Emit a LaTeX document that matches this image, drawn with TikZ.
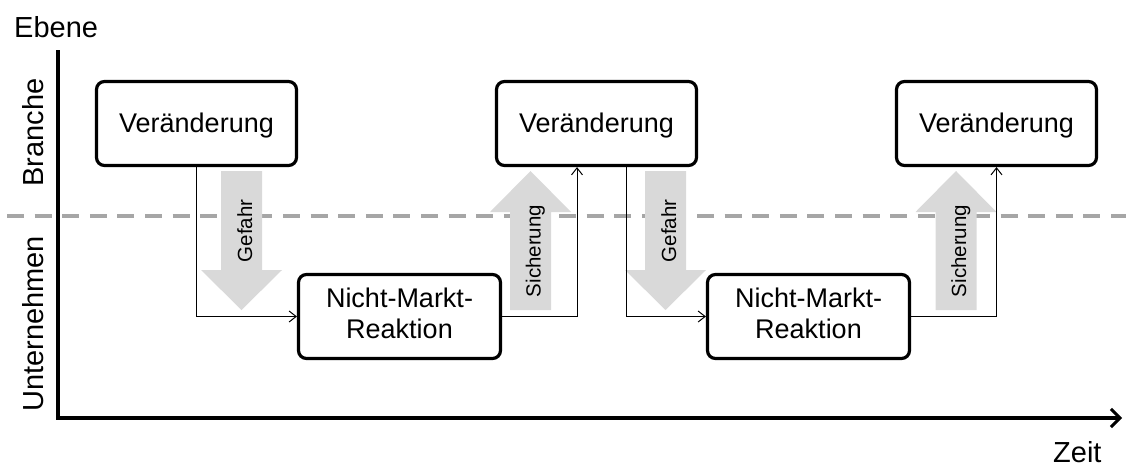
\documentclass[tikz,border=0pt]{standalone}
\usepackage{fontspec}
\setmainfont{Liberation Sans}
\usetikzlibrary{arrows.meta}
\definecolor{bandgray}{HTML}{D9D9D9}
\definecolor{dashgray}{HTML}{A6A6A6}
\begin{document}
\begin{tikzpicture}[x=1pt,y=-1pt,
  box/.style={draw, line width=3.2pt, rounded corners=8pt, minimum height=84pt,
    inner sep=0pt, align=center, font=\fontsize{27}{31}\selectfont},
  change/.style={box, minimum width=200pt, text depth=0pt, text height=18pt},
  reaction/.style={box, minimum width=202pt},
  conn/.style={line width=1pt, -{Straight Barb[length=7pt,width=11pt,line width=1pt]}},
  axis/.style={line width=3.2pt},
  axislabel/.style={font=\fontsize{29}{33}\selectfont, inner sep=0pt},
  bandtext/.style={font=\fontsize{20.5}{24}\selectfont, inner sep=0pt, rotate=90, anchor=base},
  band/.style={fill=bandgray, draw=none}
]
\useasboundingbox (0,0) rectangle (1126,466);

% level separator
\draw[dashgray, line width=4pt, dash pattern=on 17pt off 10.6pt] (7,215.5) -- (1126,215.5);

% axes
\draw[axis] (58,50) -- (58,418) -- (1116,418);
\draw[axis, -{Straight Barb[length=9pt,width=18pt,line width=3pt]}] (1100,418) -- (1122,418);
\node[axislabel, anchor=base west] (ebene) at (14,37) {Ebene};
\node[axislabel, anchor=base west] (zeit) at (1053,462) {Zeit};
\node[axislabel, anchor=base, rotate=90] (branche) at (43,132.5) {Branche};
\node[axislabel, anchor=base, rotate=90] (unternehmen) at (43,324) {Unternehmen};

% broad arrows: threat (down) and safeguarding (up)
\foreach \cx/\nm in {241.5/g1, 665.5/g2} {
  \fill[band] (\cx-20.5,171) -- (\cx+20.5,171) -- (\cx+20.5,270) -- (\cx+40.5,270)
    -- (\cx,310) -- (\cx-40.5,270) -- (\cx-20.5,270) -- cycle;
  \node[bandtext] (\nm) at (\cx+10.5,231) {Gefahr};
}
\foreach \cx/\nm in {530.5/s1, 956/s2} {
  \fill[band] (\cx-20.5,310) -- (\cx+20.5,310) -- (\cx+20.5,212) -- (\cx+40.5,212)
    -- (\cx,171) -- (\cx-40.5,212) -- (\cx-20.5,212) -- cycle;
  \node[bandtext] (\nm) at (\cx+10,251) {Sicherung};
}

% boxes
\node[change] (v1) at (196.5,123.5) {Veränderung};
\node[change] (v2) at (596.5,123.5) {Veränderung};
\node[change] (v3) at (996.5,123.5) {Veränderung};
\node[reaction] (n1) at (399.5,316.5) {Nicht-Markt-\strut\\Reaktion\strut};
\node[reaction] (n2) at (808.5,316.5) {Nicht-Markt-\strut\\Reaktion\strut};

% flow
\draw[conn] (v1.south) |- (n1.west);
\draw[conn] (n1.east) -| ([xshift=-19.5pt]v2.south);
\draw[conn] ([xshift=29.5pt]v2.south) |- (n2.west);
\draw[conn] (n2.east) -| (v3.south);
\end{tikzpicture}
\end{document}
